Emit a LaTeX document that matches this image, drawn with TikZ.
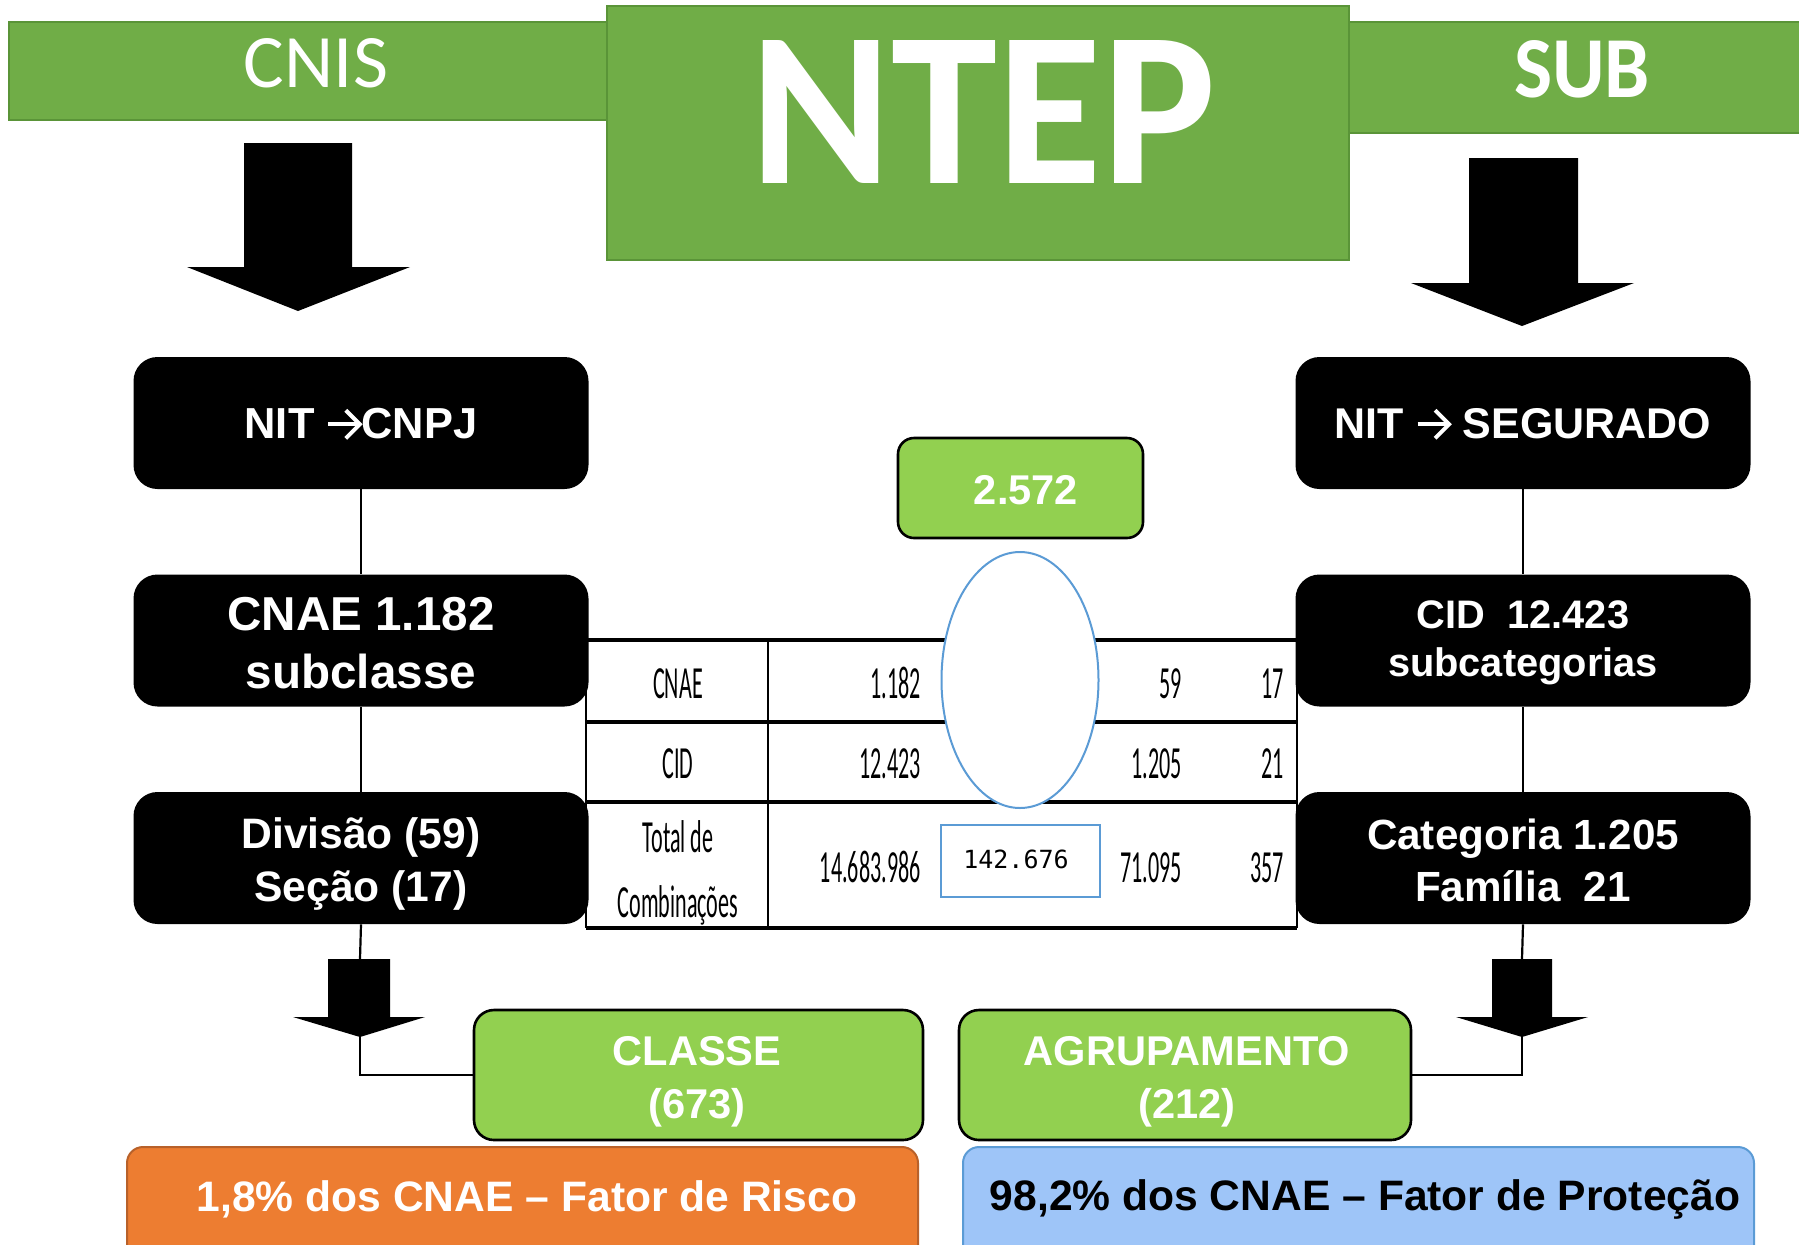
\documentclass[tikz,border=0pt]{standalone}
\usepackage{graphicx}
\usepackage{fontspec}
\setmainfont{Liberation Sans}
\newfontfamily\carlito{Carlito}
\newfontfamily\dvmono{DejaVu Sans Mono}
\usetikzlibrary{shapes.geometric}

\definecolor{hdrgreen}{HTML}{70AD47}
\definecolor{hdredge}{HTML}{5A9438}
\definecolor{boxgreen}{HTML}{92D050}
\definecolor{riskorange}{HTML}{ED7D31}
\definecolor{riskedge}{HTML}{B8612A}
\definecolor{protblue}{HTML}{8DB3E2}
\definecolor{protlight}{HTML}{9EC5F8}
\definecolor{lineblue}{HTML}{5B9BD5}

% chevron-headed right arrow used inside the black boxes
\newcommand{\rarrow}{\tikz[baseline=0pt, x=1pt, y=1pt]{%
  \path[use as bounding box] (0,0) rectangle (17.5,0);
  \draw[white, line width=2pt] (0.8,7.3) -- (16.4,7.3);
  \draw[white, line width=2pt, line join=miter, miter limit=4] (9.6,14.3) -- (16.6,7.3) -- (9.6,0.3);}}
% condensed table text
\newcommand{\tcell}[1]{{\carlito\fontsize{23}{26}\selectfont\scalebox{0.48}[1]{#1}}}
\newcommand{\fs}[1]{\fontsize{#1}{#1}\selectfont}

\tikzset{
  hdr/.style={fill=hdrgreen, draw=hdredge, line width=1pt, inner sep=0},
  blackbox/.style={fill=black, rounded corners=12pt, minimum width=227.5pt,
    minimum height=66pt, inner sep=0},
  boxtext/.style={text=white, align=center, inner sep=0},
  greenbox/.style={fill=boxgreen, draw=black, line width=1.3pt, rounded corners=10pt,
    inner sep=0},
  greentext/.style={text=white, align=center, inner sep=0,
    font=\bfseries\fontsize{20.8}{26.4}\selectfont},
  link/.style={line width=1.1pt},
  blockarrow/.style={fill=black},
  rowline/.style={line width=1.6pt},
  edgeline/.style={line width=2pt},
  colline/.style={line width=1pt},
  cell/.style={inner sep=0},
  bigword/.style={inner sep=0, text=white},
}

\begin{document}
\begin{tikzpicture}[x=0.5pt, y=-0.5pt]
\useasboundingbox (0,0) rectangle (1799,1244);
\clip (0,0) rectangle (1799,1244);

% ---- header bands ----
\node[hdr, minimum width=299.5pt, minimum height=49pt] (cnisbar) at (308.5,71) {};
\node[hdr, minimum width=230pt, minimum height=55.5pt] (subbar) at (1579,77.5) {};
\node[hdr, minimum width=371pt, minimum height=127pt] (ntepbox) at (978,133) {};
\node[bigword] (cnis) at (316,63.5) {\resizebox{72pt}{24.5pt}{\carlito CNIS}};
\node[bigword] (ntep) at (983.5,111.5) {\resizebox{232.5pt}{71.5pt}{\carlito\bfseries NTEP}};
\node[bigword] (sub) at (1582,69.5) {\resizebox{68pt}{28.5pt}{\carlito\bfseries SUB}};

% ---- large block arrows ----
\fill[blockarrow] (244,143) -- (352,143) -- (352,267) -- (410,267) -- (298,311)
  -- (187,267) -- (244,267) -- cycle;
\fill[blockarrow] (1469,158) -- (1578,158) -- (1578,283) -- (1634,283) -- (1522,326)
  -- (1411,283) -- (1469,283) -- cycle;

% ---- comparison table ----
\draw[edgeline] (586,640) -- (1297,640);
\draw[rowline] (586,722) -- (1297,722);
\draw[rowline] (586,802) -- (1297,802);
\draw[edgeline] (586,928) -- (1297,928);
\draw[colline] (586,640) -- (586,928);
\draw[colline] (768,640) -- (768,928);
\draw[colline] (1297,640) -- (1297,928);

\node[cell, anchor=base] (lcnae) at (678,698) {\tcell{CNAE}};
\node[cell, anchor=base] (lcid) at (678,778) {\tcell{CID}};
\node[cell, anchor=base] (ltot1) at (678,852) {\tcell{Total de}};
\node[cell, anchor=base] (ltot2) at (678,917) {\tcell{Combinações}};

\node[cell, anchor=base east] (c12) at (921,698) {\tcell{1.182}};
\node[cell, anchor=base east] (c22) at (921,778) {\tcell{12.423}};
\node[cell, anchor=base east] (c32) at (921,882) {\tcell{14.683.986}};
\node[cell, anchor=base east] (c14) at (1182,698) {\tcell{59}};
\node[cell, anchor=base east] (c24) at (1182,778) {\tcell{1.205}};
\node[cell, anchor=base east] (c34) at (1182,882) {\tcell{71.095}};
\node[cell, anchor=base east] (c15) at (1284,698) {\tcell{17}};
\node[cell, anchor=base east] (c25) at (1284,778) {\tcell{21}};
\node[cell, anchor=base east] (c35) at (1284,882) {\tcell{357}};

\node[ellipse, draw=lineblue, fill=white, line width=1pt, minimum width=78.5pt,
  minimum height=128pt, inner sep=0] (oval) at (1020,680) {};
\node[draw=lineblue, line width=1pt, minimum width=79.5pt, minimum height=36pt,
  inner sep=0] (combo) at (1020.5,861) {};
\node[inner sep=0, font=\dvmono\fs{12.5}] (combot) at (1016,859.5) {142.676};

\node[greenbox, minimum width=122.5pt, minimum height=50pt, rounded corners=8pt]
  (total) at (1020.5,488) {};
\node[greentext] (totalt) at (1026,490) {2.572};

% ---- left column ----
\node[blackbox] (nitl) at (361,423) {};
\node[blackbox] (cnae) at (361,640.5) {};
\node[blackbox] (div) at (361,858) {};
\node[boxtext, font=\bfseries\fs{21.7}] (nitlt) at (361,424) {NIT \rarrow CNPJ};
\node[boxtext, font=\bfseries\fontsize{23.8}{28.7}\selectfont] (cnaet) at (361,643)
  {CNAE 1.182\\subclasse};
\node[boxtext, font=\bfseries\fontsize{21.3}{26.4}\selectfont] (divt) at (361,864)
  {Divisão (59)\\Seção (17)};

% ---- right column ----
\node[blackbox] (nitr) at (1523,423) {};
\node[blackbox] (cid) at (1523,640.5) {};
\node[blackbox] (cat) at (1523,858) {};
\node[boxtext, font=\bfseries\fs{21.5}] (nitrt) at (1523,424) {NIT \rarrow{} SEGURADO};
\node[boxtext, font=\bfseries\fontsize{19.9}{24}\selectfont] (cidt) at (1523,643)
  {CID~~12.423\\subcategorias};
\node[boxtext, font=\bfseries\fontsize{21.1}{25.8}\selectfont] (catt) at (1523,860.5)
  {Categoria 1.205\\Família~~21};

\draw[link] (nitl) -- (cnae);
\draw[link] (cnae) -- (div);
\draw[link] (nitr) -- (cid);
\draw[link] (cid) -- (cat);

% ---- small block arrows ----
\coordinate (latop) at (360,959);
\coordinate (latip) at (360,1037);
\coordinate (ratop) at (1522,959);
\coordinate (ratip) at (1522,1037);
\fill[blockarrow] (328,959) -- (390,959) -- (390,1017) -- (425,1017) -- (latip)
  -- (293,1017) -- (328,1017) -- cycle;
\fill[blockarrow] (1492,959) -- (1552,959) -- (1552,1017) -- (1588,1017) -- (ratip)
  -- (1456,1017) -- (1492,1017) -- cycle;

% ---- result boxes ----
\node[greenbox, minimum width=224.5pt, minimum height=65pt] (classe) at (698.5,1075) {};
\node[greenbox, minimum width=226pt, minimum height=65pt] (agrup) at (1185,1075) {};
\node[greentext] (classet) at (697,1081.5) {CLASSE\\(673)};
\node[greentext] (agrupt) at (1187,1081.5) {AGRUPAMENTO\\(212)};

\draw[link] (div.south) -- (latop);
\draw[link] (latip) |- (classe.west);
\draw[link] (cat.south) -- (ratop);
\draw[link] (ratip) |- (agrup.east);

% ---- bottom bands ----
\draw[fill=riskorange, draw=riskedge, line width=1pt, rounded corners=8pt]
  (127,1147) rectangle (918,1300);
\draw[draw=lineblue, line width=1pt, rounded corners=8pt, left color=protlight,
  middle color=protblue, right color=protlight] (963,1147) rectangle (1754,1300);
\node[inner sep=0, text=white, font=\bfseries\fs{21.3}] (risk) at (527,1199)
  {1,8\% dos CNAE – Fator de Risco};
\node[inner sep=0, text=black, font=\bfseries\fs{21.3}] (prot) at (1365,1199)
  {98,2\% dos CNAE – Fator de Proteção};
\end{tikzpicture}
\end{document}
